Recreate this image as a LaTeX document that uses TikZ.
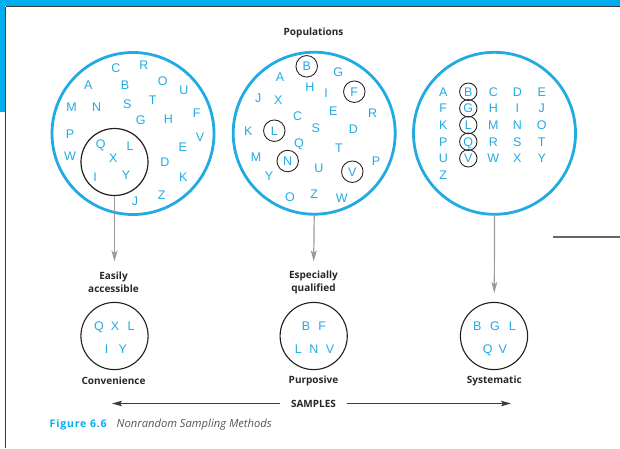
\documentclass[tikz,border=0pt]{standalone}
\usepackage{fontspec}
\setmainfont{Liberation Sans}
\newfontfamily\labfont{Open Sans}
\newfontfamily\figfont[LetterSpace=8]{Open Sans}
\usetikzlibrary{arrows.meta}
\definecolor{popblue}{HTML}{22AAE2}
\definecolor{bandblue}{HTML}{00ADEF}
\definecolor{arrgray}{HTML}{9A9A9A}
\definecolor{darkline}{HTML}{3A3A3A}
\definecolor{captgray}{HTML}{555555}
\tikzset{
  letter/.style={text=popblue, font=\fontsize{12.5}{12.5}\selectfont, inner sep=0pt, text height=8.95pt, text depth=0pt},
  ringed/.style={letter, circle, draw=black!85, line width=0.9pt, minimum size=21.5pt},
  ringedsmall/.style={letter, circle, draw=black!85, line width=0.9pt, minimum size=17.4pt},
  popcircle/.style={circle, draw=popblue, line width=2.8pt, minimum size=162pt, inner sep=0pt},
  sampcircle/.style={circle, draw=black!88, line width=1.1pt, minimum size=67.2pt, inner sep=0pt},
  lab/.style={font=\labfont\bfseries\fontsize{10}{13.3}\selectfont, text=black!85, align=center, inner sep=0pt},
  grayarrow/.style={draw=arrgray, line width=1.2pt, -{Stealth[length=11pt,width=6pt,inset=2.5pt]}},
  samparrow/.style={draw=darkline, line width=1.3pt, -{Stealth[length=10pt,width=5.5pt,inset=2pt]}},
}
\begin{document}
\begin{tikzpicture}[x=1pt,y=-1pt]
\useasboundingbox (0,0) rectangle (620,448);
% frame / band
\fill[bandblue] (0,0) rectangle (620,6);
\fill[bandblue] (0,0) rectangle (5,112);
\draw[darkline, line width=1.1pt] (5.5,6.5) -- (620,6.5);
\draw[darkline, line width=1.1pt] (5.5,6.5) -- (5.5,448);
\draw[black!60, line width=1.6pt] (553,236.7) -- (620,236.7);

\node[lab, font=\labfont\bfseries\fontsize{10}{12}\selectfont] (populations) at (313.5,33) {Populations};

% population circles
\node[popcircle] (pop1) at (133,133.5) {};
\node[popcircle] (pop2) at (314.2,133.2) {};
\node[popcircle] (pop3) at (494.5,133.3) {};

% circle 1
\node[circle, draw=black!88, line width=1.2pt, minimum size=67pt, inner sep=0pt] (inner1) at (114.5,162) {};
\foreach \n/\x/\y in {C/116/68, R/144/65, A/88.3/85, B/125/85, O/162.7/80.7, U/184/90, M/71.7/107.3, N/96.7/106.7, S/127.3/104.3, T/152.7/100, G/140.7/120, H/168.3/119.3, F/196.7/113.3, P/70/134, V/200/136.7, W/70/155.7, Q/100.7/144, L/130/145.7, X/113.3/158.3, E/182.7/147.3, D/165/162.3, I/95/176.7, Y/126/175, K/183.3/177.3, J/135/201, Z/161.7/195}
  \node[letter] (a\n) at (\x,\y) {\n};

% circle 2
\foreach \n/\x/\y in {G/338.3/72.3, A/280/77.3, H/310/87.3, I/326/92.7, J/258.3/97.7, X/278.3/100, C/297.7/115.7, E/333.3/111, R/372.7/113.3, K/248.3/130.7, S/315.7/127.7, D/353.3/129, Q/299/142.7, T/339/147.7, M/256/157.3, P/376/161, U/319/167.7, Y/269/176, O/290/196.7, Z/314.3/194, W/341.7/198.3}
  \node[letter] (b\n) at (\x,\y) {\n};
\foreach \n/\x/\y in {B/306.7/66.3, F/354.3/91.7, L/274.3/130.7, N/287.7/161, V/352.3/171.7}
  \node[ringed] (b\n) at (\x,\y) {\n};

% circle 3 grid
\foreach \n/\x/\y in {A/443.3/91.7, C/493.3/91.7, D/517.3/91.7, E/541.7/91.7,
                      F/443.3/108.3, H/493.3/108.3, I/517.3/108.3, J/541.7/108.3,
                      K/443.3/125, M/493.3/125, N/517.3/125, O/541.7/125,
                      P/443.3/141.7, R/493.3/141.7, S/517.3/141.7, T/541.7/141.7,
                      U/443.3/158.3, W/493.3/158.3, X/517.3/158.3, Y/541.7/158.3,
                      Z/443.3/175.5}
  \node[letter] (c\n) at (\x,\y) {\n};
\foreach \n/\y in {B/91.7, G/108.3, L/125, Q/141.7, V/158.3}
  \node[ringedsmall] (c\n) at (468.3,\y) {\n};

% samples
\node[sampcircle] (samp1) at (114.5,336) {};
\node[sampcircle] (samp2) at (313.7,336) {};
\node[sampcircle] (samp3) at (494,336) {};
\foreach \n/\x/\y in {Q/99/325.7, X/115/325.7, L/131/325.7, I/106.7/349.3, Y/122.7/349.3}
  \node[letter] (s1\n) at (\x,\y) {\n};
\foreach \n/\x/\y in {B/306/325.7, F/322.3/325.7, L/298.3/349.3, N/314/349.3, V/330/349.3}
  \node[letter] (s2\n) at (\x,\y) {\n};
\foreach \n/\x/\y in {B/477.3/325.7, G/495/325.7, L/512.3/325.7, Q/487.7/349.3, V/502.7/349.3}
  \node[letter] (s3\n) at (\x,\y) {\n};

% labels
\node[lab] (lab1) at (113.5,282.5) {Easily\\accessible};
\node[lab] (lab2) at (313.5,282.5) {Especially\\qualified};
\node[lab] (conv) at (113.5,381) {Convenience};
\node[lab] (purp) at (313.5,381) {Purposive};
\node[lab] (syst) at (494.3,381) {Systematic};

% arrows
\coordinate (t1) at (114.5,261.5);
\coordinate (t2) at (313.7,261.5);
\coordinate (t3) at (494.3,293);
\draw[grayarrow] (inner1.south) -- (t1);
\draw[grayarrow] (pop2.south) -- (t2);
\draw[grayarrow] (pop3.south) -- (t3);

% bottom
\node[lab, font=\labfont\bfseries\fontsize{10}{11}\selectfont] (samples) at (313.5,403.5) {SAMPLES};
\coordinate (sl) at (112,403.5);
\coordinate (sr) at (511,403.5);
\draw[samparrow, shorten <=11pt] (samples.west) -- (sl);
\draw[samparrow, shorten <=11pt] (samples.east) -- (sr);

\node[anchor=west, inner sep=0pt, text=bandblue, font=\figfont\bfseries\fontsize{10.5}{12}\selectfont] (fig) at (49.5,424.5) {Figure 6.6};
\node[anchor=west, inner sep=0pt, text=captgray, font=\labfont\itshape\fontsize{11.2}{12}\selectfont] (capt) at (116.5,424.5) {Nonrandom Sampling Methods};
\end{tikzpicture}
\end{document}
